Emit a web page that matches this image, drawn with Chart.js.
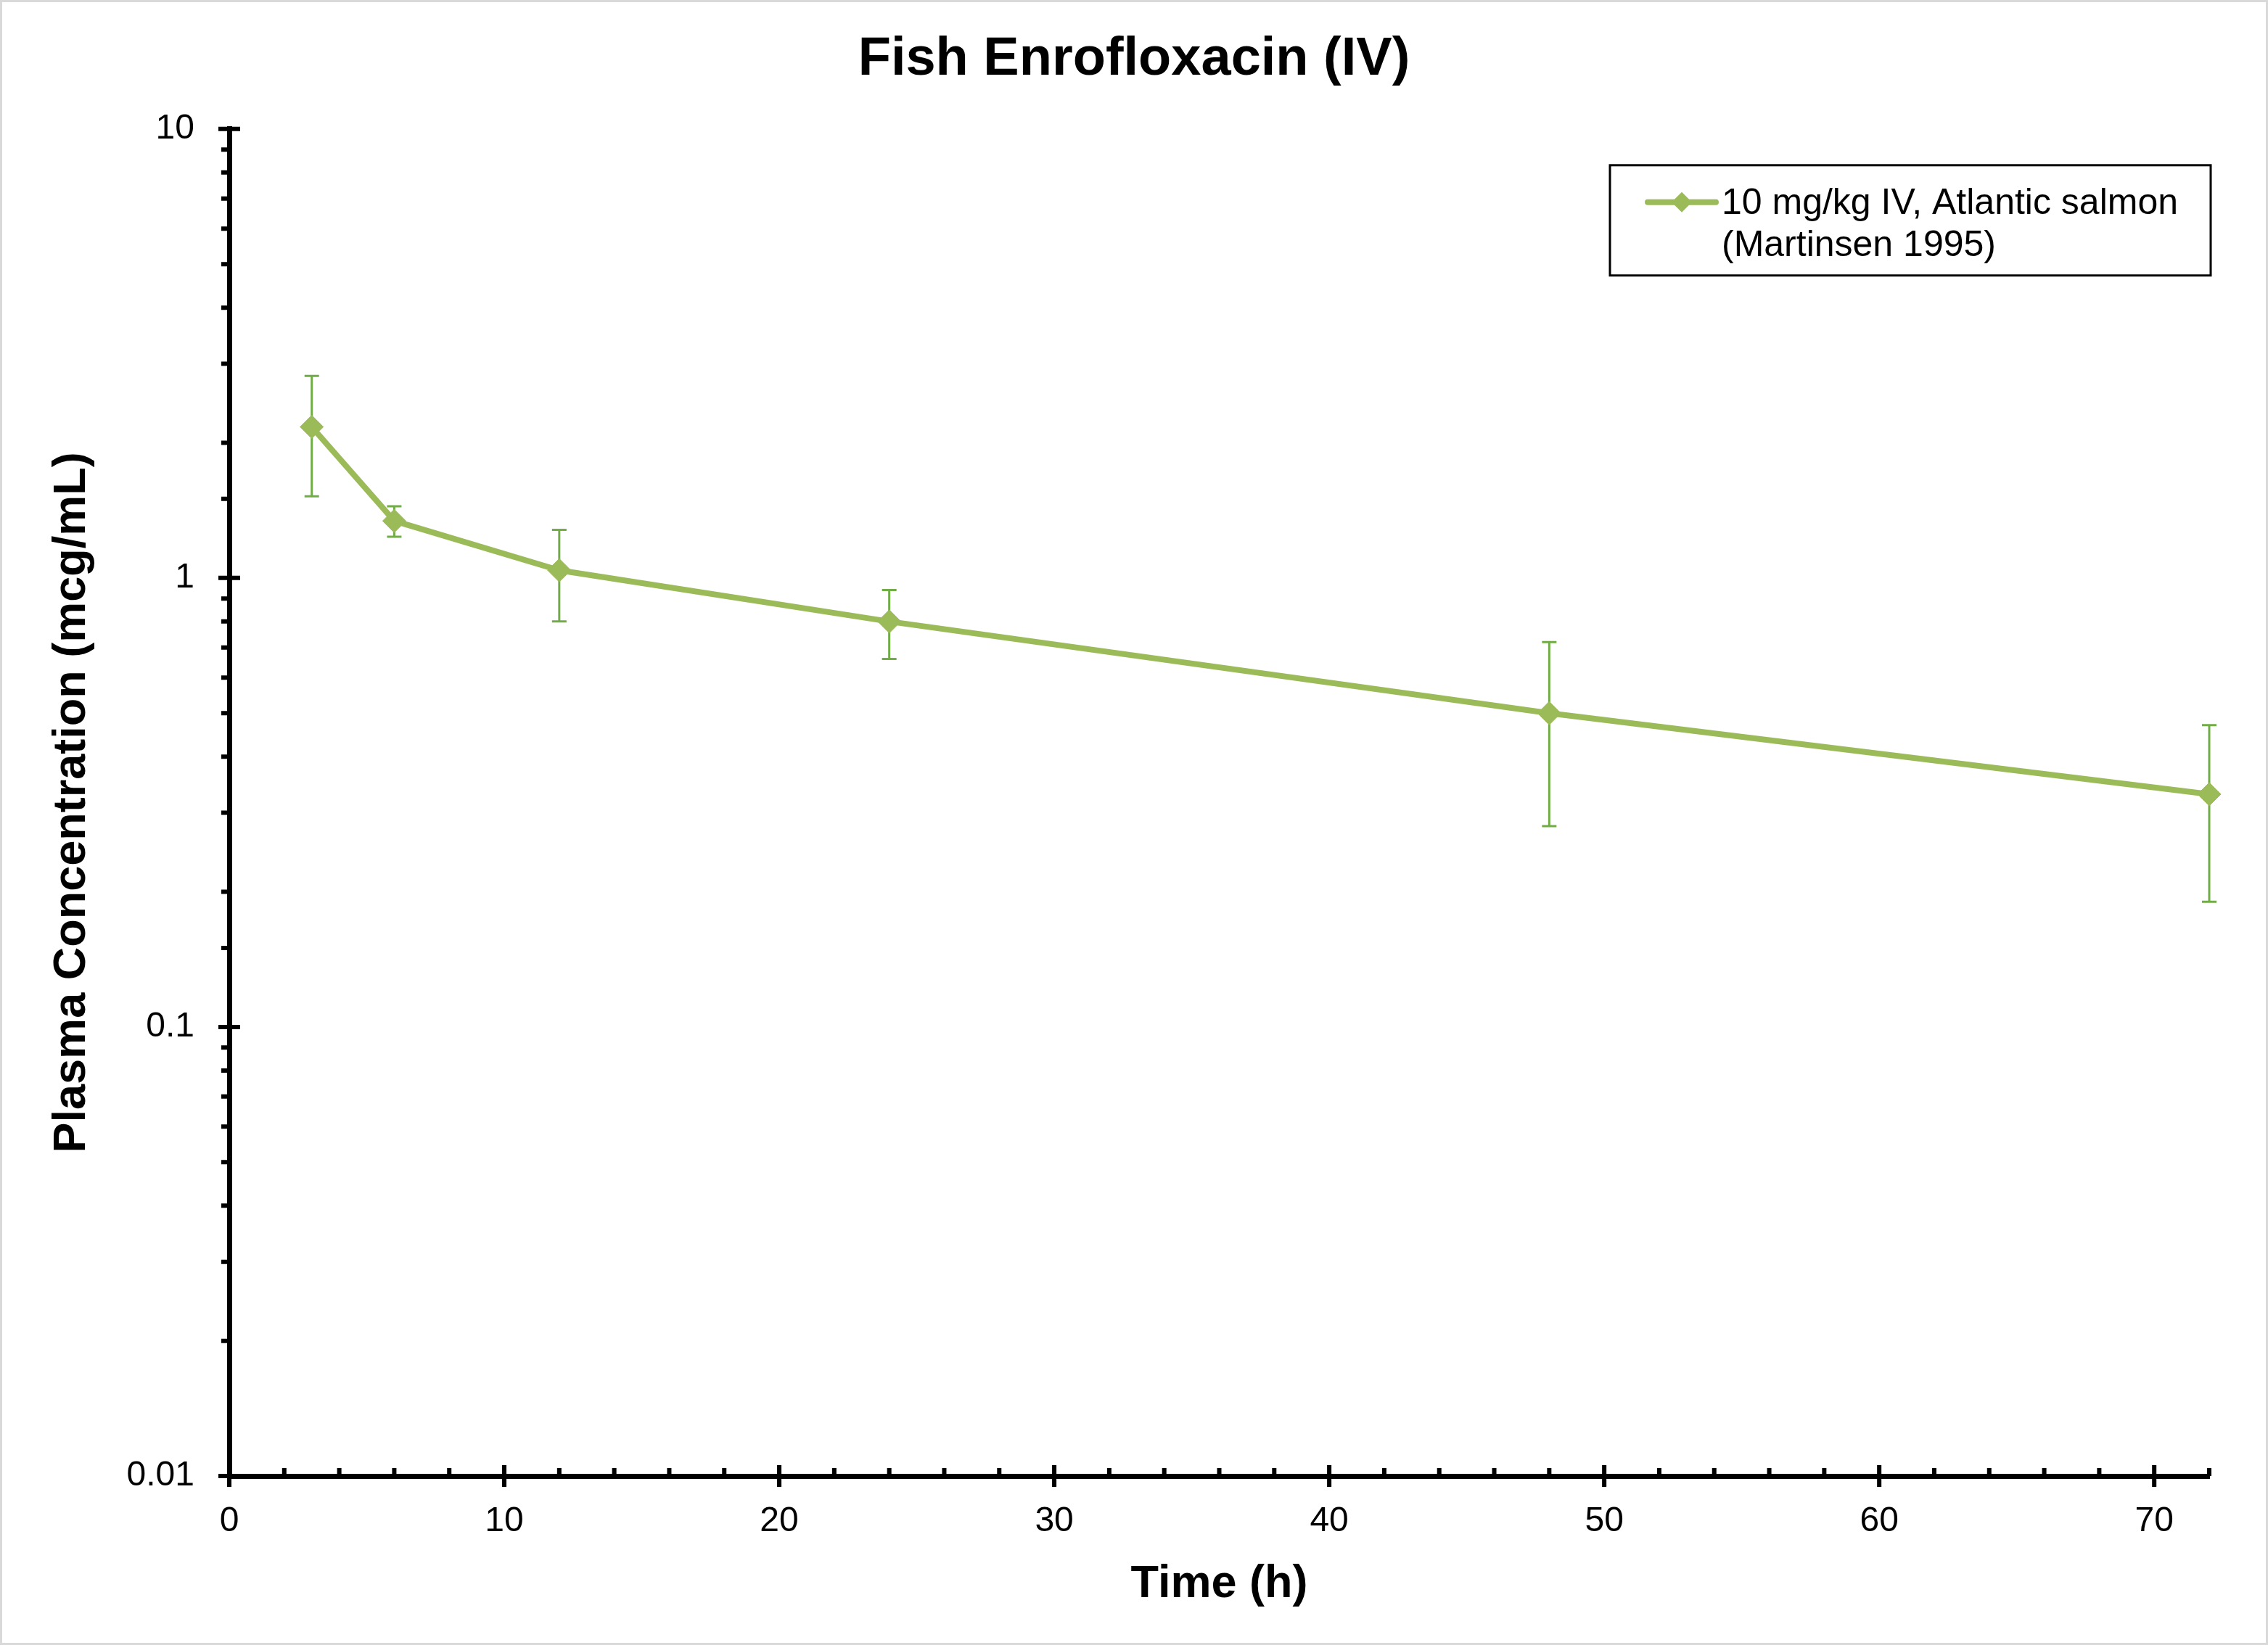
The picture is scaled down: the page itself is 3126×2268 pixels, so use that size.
<html>
<head>
  <meta charset="utf-8"/>
  <title>Fish Enrofloxacin (IV)</title>
  <script src="https://cdn.jsdelivr.net/npm/chart.js"></script>
  <style>
    body { margin: 0; background: #fff; }
  </style>
</head>
<body>
  <canvas id="pkChart" width="3126" height="2268"></canvas>

  <script>
    // data
    const timeH = [3, 6, 12, 24, 48, 72];
    const concMean = [2.17, 1.34, 1.04, 0.80, 0.50, 0.33];
    const concSD = [0.65, 0.105, 0.24, 0.14, 0.22, 0.14];
    const xTickLabels = ['0', '10', '20', '30', '40', '50', '60', '70'];
    const yTickLabels = ['0.01', '0.1', '1', '10'];
    const seriesLabel = ['10 mg/kg IV, Atlantic salmon', '(Martinsen 1995)'];

    const FONT = '"Liberation Sans", Arial, sans-serif';
    const LINE_GREEN = '#9BBB59';
    const BAR_GREEN = '#70AD47';

    const isDecade = v => Math.abs(Math.log10(v) - Math.round(Math.log10(v))) < 1e-6;

    // light grey frame round the whole picture
    const frame = {
      id: 'frame',
      beforeDraw(chart) {
        const c = chart.ctx;
        c.save();
        c.fillStyle = '#fff';
        c.fillRect(0, 0, chart.width, chart.height);
        c.strokeStyle = '#d9d9d9';
        c.lineWidth = 6;
        c.strokeRect(0, 0, chart.width, chart.height);
        c.restore();
      }
    };

    // +/- SD bars, drawn under the line
    const errorBars = {
      id: 'errorBars',
      beforeDatasetsDraw(chart) {
        const { x, y } = chart.scales;
        const c = chart.ctx;
        c.save();
        c.strokeStyle = BAR_GREEN;
        c.lineWidth = 3;
        timeH.forEach((t, i) => {
          const px = x.getPixelForValue(t);
          const top = y.getPixelForValue(concMean[i] + concSD[i]);
          const bot = y.getPixelForValue(concMean[i] - concSD[i]);
          c.beginPath();
          c.moveTo(px, top); c.lineTo(px, bot);
          c.moveTo(px - 10, top); c.lineTo(px + 10, top);
          c.moveTo(px - 10, bot); c.lineTo(px + 10, bot);
          c.stroke();
        });
        c.restore();
      }
    };

    // excel style tick marks: majors cross the axis, minors only on one side
    const axisTicks = {
      id: 'axisTicks',
      afterDraw(chart) {
        const { x, y } = chart.scales;
        const a = chart.chartArea;
        const c = chart.ctx;
        c.save();
        c.strokeStyle = '#000';
        c.lineWidth = 6;
        c.beginPath();
        x.ticks.forEach(t => {
          const px = x.getPixelForValue(t.value);
          c.moveTo(px, a.bottom - 15); c.lineTo(px, a.bottom + 15);
        });
        for (let v = x.min + 2; v <= x.max; v += 2) {
          if (v % 10 === 0) continue;
          const px = x.getPixelForValue(v);
          c.moveTo(px, a.bottom); c.lineTo(px, a.bottom - 11);
        }
        y.ticks.forEach(t => {
          const py = y.getPixelForValue(t.value);
          if (isDecade(t.value)) {
            c.moveTo(a.left - 15, py); c.lineTo(a.left + 15, py);
          } else {
            c.moveTo(a.left - 11, py); c.lineTo(a.left, py);
          }
        });
        c.stroke();
        c.restore();
      }
    };

    // boxed legend with a two line label
    const boxLegend = {
      id: 'boxLegend',
      afterDraw(chart) {
        const a = chart.chartArea;
        const c = chart.ctx;
        const bx = a.right - 826, by = a.top + 50, bw = 828, bh = 152;
        c.save();
        c.strokeStyle = '#000';
        c.lineWidth = 3;
        c.strokeRect(bx, by, bw, bh);

        const my = by + 51;
        c.strokeStyle = LINE_GREEN;
        c.lineWidth = 8;
        c.lineCap = 'round';
        c.beginPath();
        c.moveTo(bx + 52, my); c.lineTo(bx + 146, my);
        c.stroke();
        c.fillStyle = LINE_GREEN;
        const dx = bx + 99, r = 14;
        c.beginPath();
        c.moveTo(dx, my - r); c.lineTo(dx + r, my); c.lineTo(dx, my + r); c.lineTo(dx - r, my);
        c.closePath();
        c.fill();

        c.fillStyle = '#000';
        c.font = '50px ' + FONT;
        c.textBaseline = 'middle';
        c.textAlign = 'left';
        chart.data.datasets[0].label.split('\n').forEach((line, i) => {
          c.fillText(line, bx + 154, my + 2 + i * 58);
        });
        c.restore();
      }
    };

    window.addEventListener('DOMContentLoaded', () => {
      const ctx = document.getElementById('pkChart').getContext('2d');
      new Chart(ctx, {
        type: 'line',
        data: {
          datasets: [{
            label: seriesLabel.join('\n'),
            data: timeH.map((t, i) => ({ x: t, y: concMean[i] })),
            borderColor: LINE_GREEN,
            backgroundColor: LINE_GREEN,
            borderWidth: 8,
            pointStyle: 'rectRot',
            pointRadius: 16,
            pointBorderWidth: 1,
            tension: 0,
            clip: false
          }]
        },
        options: {
          responsive: false,
          animation: false,
          layout: { padding: 0 },
          plugins: {
            legend: { display: false },
            tooltip: { enabled: false },
            title: {
              display: true,
              text: 'Fish Enrofloxacin (IV)',
              color: '#000',
              font: { family: FONT, size: 74, weight: 'bold' },
              padding: { top: 38, bottom: 51 }
            }
          },
          scales: {
            x: {
              type: 'linear',
              min: 0,
              max: 72,
              grid: { display: false, drawTicks: false },
              border: { display: true, color: '#000', width: 7 },
              ticks: {
                stepSize: 10,
                includeBounds: false,
                autoSkip: false,
                maxRotation: 0,
                padding: 34,
                color: '#000',
                font: { family: FONT, size: 48 },
                callback: v => xTickLabels.includes(String(v)) ? String(v) : ''
              },
              title: {
                display: true,
                text: 'Time (h)',
                color: '#000',
                font: { family: FONT, size: 63, weight: 'bold' },
                padding: { top: 0, bottom: 46 }
              },
              afterFit(s) { s.height = 233; }
            },
            y: {
              type: 'logarithmic',
              min: 0.01,
              max: 10,
              grid: { display: false, drawTicks: false },
              border: { display: true, color: '#000', width: 7 },
              ticks: {
                autoSkip: false,
                padding: 48,
                color: '#000',
                font: { family: FONT, size: 48 },
                callback: v => isDecade(v) ? yTickLabels[Math.round(Math.log10(v)) + 2] : ''
              },
              title: {
                display: true,
                text: 'Plasma Concentration (mcg/mL)',
                color: '#000',
                font: { family: FONT, size: 63, weight: 'bold' },
                padding: { top: 62, bottom: 0 }
              },
              afterFit(s) { s.width = 316; }
            },
            // empty right margin so the title centres on the whole canvas
            yPad: {
              type: 'linear',
              position: 'right',
              display: true,
              grid: { display: false, drawTicks: false },
              border: { display: false },
              ticks: { display: false },
              afterFit(s) { s.width = 81; }
            }
          }
        },
        plugins: [frame, errorBars, axisTicks, boxLegend]
      });
    });
  </script>
</body>
</html>
